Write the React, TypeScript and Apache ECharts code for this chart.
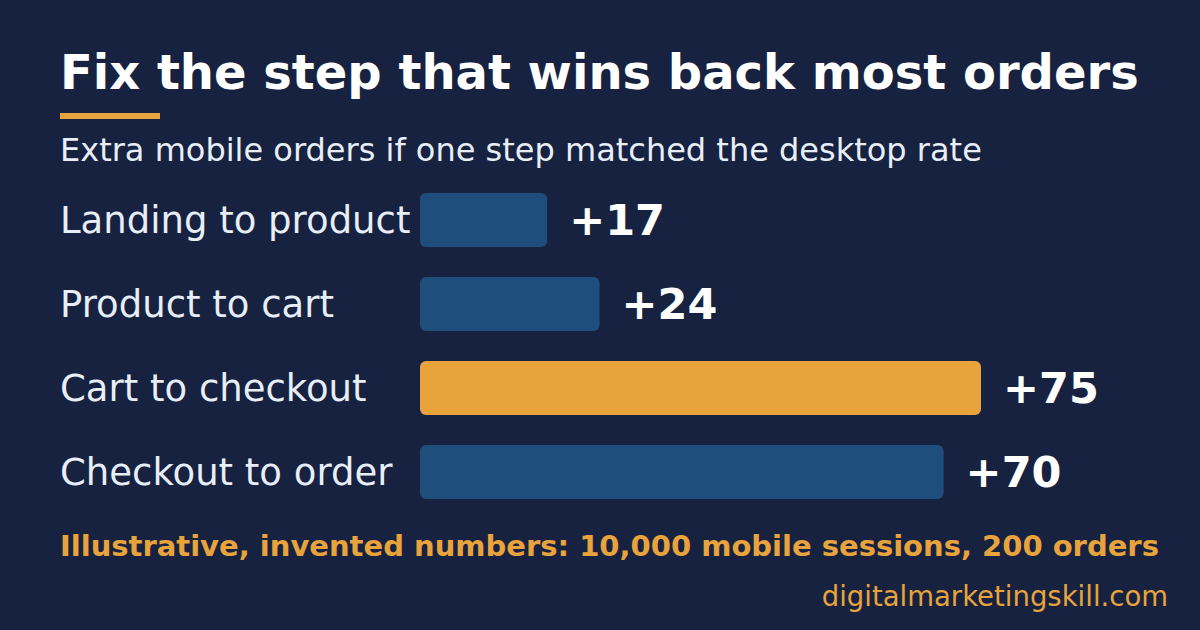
import React, { useEffect, useRef } from "react";
import * as echarts from "echarts";

const categories = ["Landing to product", "Product to cart", "Cart to checkout", "Checkout to order"];
const values = [17, 24, 75, 70];
const highlight = [false, false, true, false];

const BG = "#16223f";
const BLUE = "#1f4e7d";
const ORANGE = "#e8a33d";
const FONT = "DejaVu Sans";

export default function App() {
  const ref = useRef<HTMLDivElement>(null);
  useEffect(() => {
    document.body.style.margin = "0";
    document.body.style.background = BG;
    const chart = echarts.init(ref.current!, null, { renderer: "svg" });
    chart.setOption({
      animation: false,
      backgroundColor: BG,
      grid: { left: 420, right: 32, top: 178, bottom: 116, containLabel: false },
      xAxis: {
        type: "value",
        min: 0,
        max: 100,
        show: false,
      },
      yAxis: {
        type: "category",
        data: categories,
        inverse: true,
        axisLine: { show: false },
        axisTick: { show: false },
        splitLine: { show: false },
        axisLabel: {
          align: "left",
          margin: 360,
          color: "#e8eef8",
          fontFamily: FONT,
          fontSize: 37,
          verticalAlign: "middle",
          padding: [0, 0, 8, 0],
        },
      },
      series: [
        {
          type: "bar",
          barWidth: 54,
          data: values.map((v, i) => ({
            value: v,
            itemStyle: { color: highlight[i] ? ORANGE : BLUE, borderRadius: 6 },
          })),
          label: {
            show: true,
            position: "right",
            distance: 22,
            color: "#ffffff",
            fontFamily: FONT,
            fontWeight: "bold",
            fontSize: 43,
            formatter: (p: any) => "+" + p.value,
          },
        },
      ],
      graphic: [
        {
          type: "text",
          x: 60,
          y: 72,
          style: {
            text: "Fix the step that wins back most orders",
            fill: "#ffffff",
            font: `bold 48px "${FONT}"`,
            verticalAlign: "middle",
          },
        },
        {
          type: "rect",
          shape: { x: 60, y: 113, width: 100, height: 6 },
          style: { fill: ORANGE },
        },
        {
          type: "text",
          x: 60,
          y: 150,
          style: {
            text: "Extra mobile orders if one step matched the desktop rate",
            fill: "#e8eef8",
            font: `32px "${FONT}"`,
            verticalAlign: "middle",
          },
        },
        {
          type: "text",
          x: 60,
          y: 546,
          style: {
            text: "Illustrative, invented numbers: 10,000 mobile sessions, 200 orders",
            fill: ORANGE,
            font: `bold 29px "${FONT}"`,
            verticalAlign: "middle",
          },
        },
        {
          type: "text",
          x: 1168,
          y: 596,
          style: {
            text: "digitalmarketingskill.com",
            fill: ORANGE,
            font: `27.5px "${FONT}"`,
            align: "right",
            verticalAlign: "middle",
          },
        },
      ],
    });
    return () => chart.dispose();
  }, []);
  return <div ref={ref} style={{ width: 1200, height: 630 }} />;
}
